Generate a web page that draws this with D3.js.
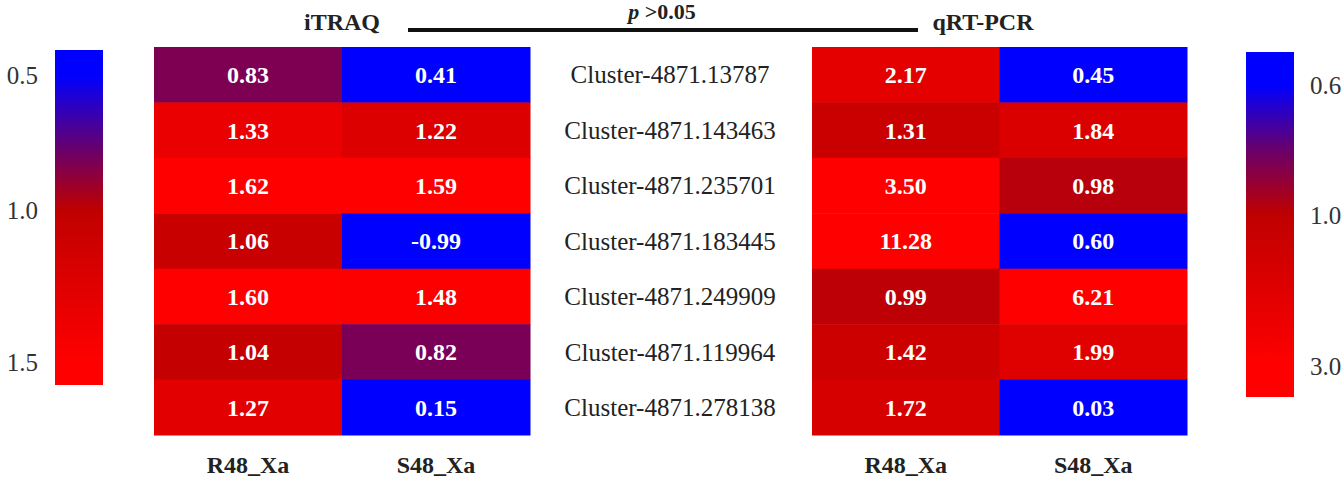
<!DOCTYPE html>
<html><head><meta charset="utf-8">
<script src="https://cdn.jsdelivr.net/npm/d3@7"></script>
<style>body{margin:0;background:#fff}svg{display:block}text{font-family:"Liberation Serif","Times New Roman",serif}</style>
</head><body>
<svg id="c" width="1344" height="483"></svg>
<script>
const genes = ["Cluster-4871.13787","Cluster-4871.143463","Cluster-4871.235701","Cluster-4871.183445","Cluster-4871.249909","Cluster-4871.119964","Cluster-4871.278138"];
const samples = ["R48_Xa","S48_Xa"];
const itraqR = [0.83,1.33,1.62,1.06,1.60,1.04,1.27];
const itraqS = [0.41,1.22,1.59,-0.99,1.48,0.82,0.15];
const qpcrR = [2.17,1.31,3.50,11.28,0.99,1.42,1.72];
const qpcrS = [0.45,1.84,0.98,0.60,6.21,1.99,0.03];
const leftTicks = [0.5,1.0,1.5];
const rightTicks = [0.6,1.0,3.0];

const svg = d3.select("#c");
const colors = ["#0000ff","#6a006a","#c00000","#ff0000"];
const cLeft = d3.scaleLinear().domain([0.5,0.78,1.0,1.5]).range(colors).clamp(true);
const cRight = d3.scaleLinear().domain([0.6,0.8,1.0,3.0]).range(colors).clamp(true);

const y = d3.scaleBand().domain(genes).range([47,435]);
const xL = d3.scaleBand().domain(samples).range([154,530]);
const xR = d3.scaleBand().domain(samples).range([812,1187]);
const FS = 24;

function heat(xs, series, cs){
  const g = svg.append("g");
  series.forEach((vals,si)=>{
    vals.forEach((v,i)=>{
      g.append("rect").attr("x",xs(samples[si])).attr("y",y(genes[i]))
        .attr("width",xs.bandwidth()+0.5).attr("height",y.bandwidth()+0.5)
        .attr("fill",cs(v));
      g.append("text").attr("x",xs(samples[si])+xs.bandwidth()/2)
        .attr("y",y(genes[i])+y.bandwidth()/2).attr("dy","0.35em")
        .attr("text-anchor","middle").attr("fill","#fff").attr("font-weight","bold")
        .attr("font-size",FS).text(v.toFixed(2));
    });
  });
  samples.forEach(s=>{
    svg.append("text").attr("x",xs(s)+xs.bandwidth()/2).attr("y",473)
      .attr("text-anchor","middle").attr("font-weight","bold").attr("font-size",FS)
      .attr("fill","#222").text(s);
  });
}
heat(xL,[itraqR,itraqS],cLeft);
heat(xR,[qpcrR,qpcrS],cRight);

genes.forEach(gn=>{
  svg.append("text").attr("x",670).attr("y",y(gn)+y.bandwidth()/2).attr("dy","0.35em")
    .attr("text-anchor","middle").attr("font-size",25).attr("fill","#222").text(gn);
});

// header
svg.append("text").attr("x",342).attr("y",30).attr("text-anchor","middle")
  .attr("font-weight","bold").attr("font-size",FS).attr("fill","#222").text("iTRAQ");
svg.append("text").attr("x",983).attr("y",30).attr("text-anchor","middle")
  .attr("font-weight","bold").attr("font-size",FS).attr("fill","#222").text("qRT-PCR");
svg.append("line").attr("x1",408).attr("x2",918).attr("y1",30).attr("y2",30)
  .attr("stroke","#111").attr("stroke-width",4);
const pt = svg.append("text").attr("x",662).attr("y",19).attr("text-anchor","middle")
  .attr("font-weight","bold").attr("font-size",22).attr("fill","#222");
pt.append("tspan").attr("font-style","italic").text("p");
pt.append("tspan").text(" >0.05");

// legends
const defs = svg.append("defs");
function legend(id, x, top, bottom, ticks, tickPos, cs, side){
  const ys = d3.scaleLinear().domain(ticks).range(tickPos);
  const grad = defs.append("linearGradient").attr("id",id).attr("x1",0).attr("x2",0).attr("y1",0).attr("y2",1);
  d3.range(0,1.0001,0.02).forEach(t=>{
    const yy = top + t*(bottom-top);
    grad.append("stop").attr("offset",t).attr("stop-color",cs(ys.invert(yy)));
  });
  svg.append("rect").attr("x",x).attr("y",top).attr("width",48).attr("height",bottom-top)
    .attr("fill",`url(#${id})`);
  const ax = (side==="left"? d3.axisLeft(ys):d3.axisRight(ys)).tickValues(ticks)
    .tickSize(0).tickPadding(0).tickFormat(d3.format(".1f"));
  const g = svg.append("g").attr("transform",`translate(${side==="left"? x-17 : x+64},0)`).call(ax);
  g.select(".domain").remove();
  g.selectAll("text").attr("font-size",25).attr("fill","#333")
    .attr("font-family","Liberation Serif, serif");
}
legend("gL",55,50,385,leftTicks,[75,210,362],cLeft,"left");
legend("gR",1246,52,397,rightTicks,[85,215,366],cRight,"right");
</script>
</body></html>
